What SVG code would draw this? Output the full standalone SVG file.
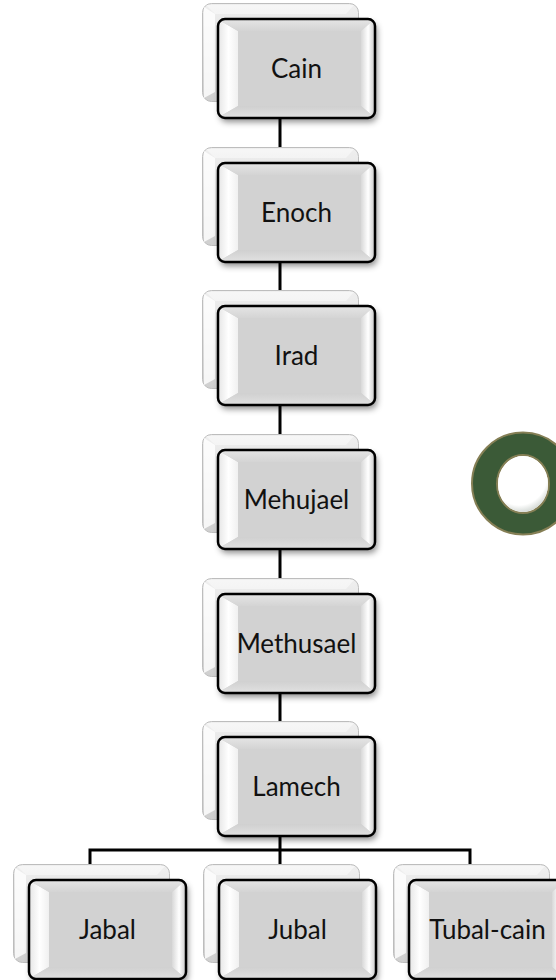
<svg xmlns="http://www.w3.org/2000/svg" xmlns:xlink="http://www.w3.org/1999/xlink" width="556" height="980" viewBox="0 0 556 980">
<style>
.lbl{font-family:Lato,"Open Sans","Liberation Sans",sans-serif;font-size:26px;fill:#111;text-anchor:middle}
.conn{fill:none;stroke:#000;stroke-width:3;stroke-linecap:square;stroke-linejoin:miter}
</style>
<defs>
<linearGradient id="backG" x1="0" y1="0" x2="0" y2="1">
<stop offset="0" stop-color="#efefef"/><stop offset="1" stop-color="#cfcfcf"/>
</linearGradient>
<linearGradient id="leftG" x1="0" y1="0" x2="1" y2="0">
<stop offset="0" stop-color="#e8e8e8"/><stop offset="0.5" stop-color="#ffffff"/><stop offset="1" stop-color="#f0f0f0"/>
</linearGradient>
<linearGradient id="rightG" x1="0" y1="0" x2="1" y2="0">
<stop offset="0" stop-color="#d8d8d8"/><stop offset="0.55" stop-color="#ffffff"/><stop offset="1" stop-color="#cfcfcf"/>
</linearGradient>
<linearGradient id="topG" x1="0" y1="0" x2="0" y2="1">
<stop offset="0" stop-color="#e4e4e4"/><stop offset="1" stop-color="#d4d4d4"/>
</linearGradient>
<linearGradient id="botG" x1="0" y1="0" x2="0" y2="1">
<stop offset="0" stop-color="#d0d0d0"/><stop offset="1" stop-color="#e0e0e0"/>
</linearGradient>
<radialGradient id="holeG" cx="0.42" cy="0.3" r="0.8">
<stop offset="0" stop-color="#ffffff"/><stop offset="0.72" stop-color="#ffffff"/><stop offset="1" stop-color="#b9c1bb"/>
</radialGradient>
<filter id="sh" x="-20%" y="-20%" width="140%" height="150%">
<feDropShadow dx="2" dy="4" stdDeviation="3" flood-color="#000" flood-opacity="0.45"/>
</filter>
<g id="stack">
<rect x="0.5" y="0.5" width="156" height="98" rx="9" fill="url(#backG)" stroke="#bdbdbd" stroke-width="1"/>
<polygon points="2,4 13,11 13,89 2,95" fill="#ffffff" opacity="0.8"/>
<polygon points="4,2 152,2 144,11 13,11" fill="#ffffff" opacity="0.45"/>
<rect x="16" y="16" width="157" height="99" rx="7" fill="#d2d2d2" filter="url(#sh)"/>
<polygon points="17,17 36,28 36,103 17,114" fill="url(#leftG)"/>
<polygon points="17,17 172,17 159,28 36,28" fill="url(#topG)"/>
<polygon points="172,17 172,114 159,103 159,28" fill="url(#rightG)"/>
<polygon points="17,114 36,103 159,103 172,114" fill="url(#botG)"/>
<rect x="16" y="16" width="157" height="99" rx="7" fill="none" stroke="#000" stroke-width="2.5"/>
</g>
</defs>
<rect width="556" height="980" fill="#ffffff"/>
<g id="ring">
<path d="M472,483.5 a51,51 0 1,0 102,0 a51,51 0 1,0 -102,0 Z M497,484 a26,29 0 1,0 52,0 a26,29 0 1,0 -52,0 Z" fill="#3b5a37" fill-rule="evenodd" stroke="#857f55" stroke-width="2"/>
<ellipse cx="523" cy="484" rx="25" ry="28" fill="url(#holeG)"/>
</g>
<g id="connectors">
<path class="conn" d="M280,110 V850 M90,850 H470 M90,850 V866 M280,850 V866 M470,850 V866"/>
</g>
<g id="cain" transform="translate(202,3)"><use xlink:href="#stack"/><text class="lbl" x="94.5" y="75">Cain</text></g>
<g id="enoch" transform="translate(202,147)"><use xlink:href="#stack"/><text class="lbl" x="94.5" y="75">Enoch</text></g>
<g id="irad" transform="translate(202,290)"><use xlink:href="#stack"/><text class="lbl" x="94.5" y="75">Irad</text></g>
<g id="mehujael" transform="translate(202,434)"><use xlink:href="#stack"/><text class="lbl" x="94.5" y="75">Mehujael</text></g>
<g id="methusael" transform="translate(202,578)"><use xlink:href="#stack"/><text class="lbl" x="94.5" y="75">Methusael</text></g>
<g id="lamech" transform="translate(202,721)"><use xlink:href="#stack"/><text class="lbl" x="94.5" y="75">Lamech</text></g>
<g id="jabal" transform="translate(13,864)"><use xlink:href="#stack"/><text class="lbl" x="94.5" y="75">Jabal</text></g>
<g id="jubal" transform="translate(203,864)"><use xlink:href="#stack"/><text class="lbl" x="94.5" y="75">Jubal</text></g>
<g id="tubal-cain" transform="translate(393,864)"><use xlink:href="#stack"/><text class="lbl" x="94.5" y="75">Tubal-cain</text></g>
</svg>
